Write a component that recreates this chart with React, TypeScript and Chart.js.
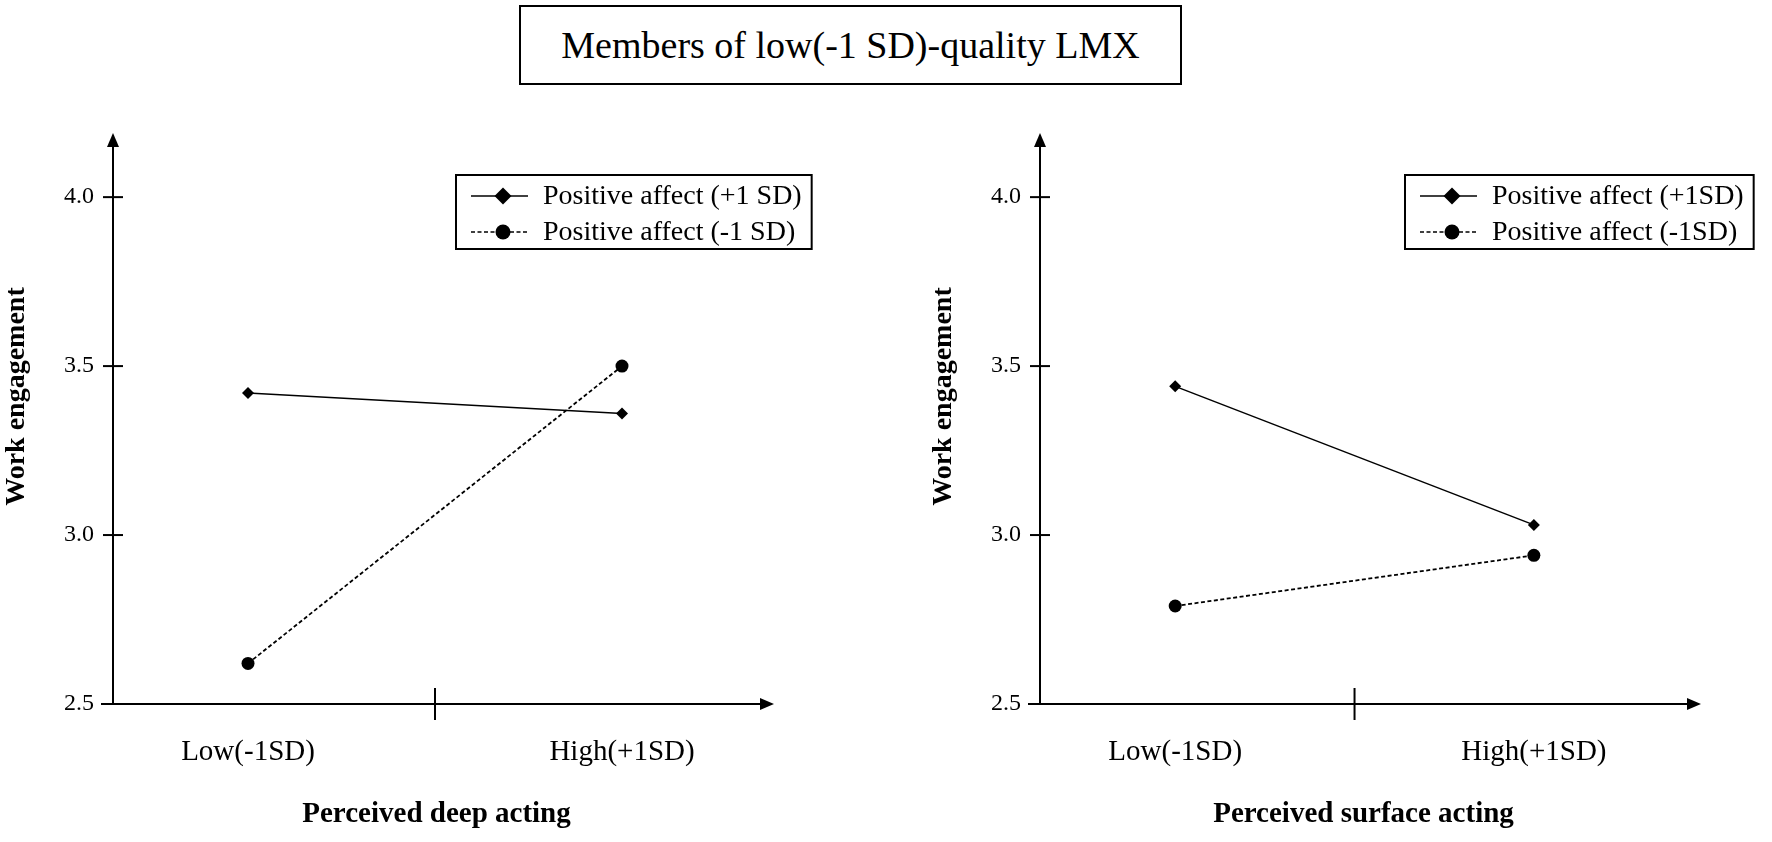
import { useEffect, useRef } from "react"
import { Chart, registerables, type ChartConfiguration, type Plugin } from "chart.js"

Chart.register(...registerables)

const serif = '"Liberation Serif", "Times New Roman", Times, serif'

const categories = ["Low(-1SD)", "High(+1SD)"]
const yTicks = [2.5, 3.0, 3.5, 4.0]

const deepLabels = ["Positive affect (+1 SD)", "Positive affect (-1 SD)"]
const deepHighPA = [3.42, 3.36]
const deepLowPA = [2.62, 3.5]

const surfaceLabels = ["Positive affect (+1SD)", "Positive affect (-1SD)"]
const surfaceHighPA = [3.44, 3.03]
const surfaceLowPA = [2.79, 2.94]

// axes drawn by hand: arrows, ticks crossing the axis, divider between categories
const arrowAxes: Plugin = {
  id: "arrowAxes",
  beforeDatasetsDraw(chart) {
    const { ctx, chartArea, scales } = chart
    const { left, right, top, bottom } = chartArea
    const line = (x1: number, y1: number, x2: number, y2: number) => {
      ctx.beginPath()
      ctx.moveTo(x1, y1)
      ctx.lineTo(x2, y2)
      ctx.stroke()
    }
    ctx.save()
    ctx.strokeStyle = "#000"
    ctx.fillStyle = "#000"
    ctx.lineWidth = 2

    const yTip = top + 44
    line(left, bottom + 1, left, yTip + 10)
    ctx.beginPath()
    ctx.moveTo(left, yTip)
    ctx.lineTo(left - 6, yTip + 14)
    ctx.lineTo(left + 6, yTip + 14)
    ctx.closePath()
    ctx.fill()

    const xTip = right + 14
    line(left - 12, bottom, xTip - 10, bottom)
    ctx.beginPath()
    ctx.moveTo(xTip, bottom)
    ctx.lineTo(xTip - 14, bottom - 6)
    ctx.lineTo(xTip - 14, bottom + 6)
    ctx.closePath()
    ctx.fill()

    const y = scales.y
    y.ticks.forEach((t) => {
      if (t.value === y.min) return
      const py = y.getPixelForValue(t.value)
      line(left - 10, py, left + 10, py)
    })

    const x = scales.x
    if (x.ticks.length > 1) {
      const mid = x.getPixelForValue((x.ticks[0].value + x.ticks[1].value) / 2)
      line(mid, bottom - 16, mid, bottom + 16)
    }
    ctx.restore()
  },
}

const boxLegend: Plugin = {
  id: "boxLegend",
  afterDraw(chart, _args, opts: any) {
    const { ctx } = chart
    const x0 = opts.x as number
    const y0 = opts.y as number
    ctx.save()
    ctx.font = `28px ${serif}`
    const sets = chart.data.datasets as any[]
    const textX = x0 + 87
    const widest = Math.max(...sets.map((d) => ctx.measureText(d.label).width))
    const w = widest + 87 + 10
    const h = 74
    ctx.strokeStyle = "#000"
    ctx.lineWidth = 2
    ctx.strokeRect(x0, y0, w, h)

    sets.forEach((d, i) => {
      const cy = y0 + 21 + i * 36
      ctx.lineWidth = 1.5
      ctx.setLineDash(d.borderDash || [])
      ctx.beginPath()
      ctx.moveTo(x0 + 15, cy)
      ctx.lineTo(x0 + 72, cy)
      ctx.stroke()
      ctx.setLineDash([])
      const mx = x0 + 47
      ctx.fillStyle = "#000"
      ctx.beginPath()
      if (d.pointStyle === "rectRot") {
        const r = 8.5
        ctx.moveTo(mx - r, cy)
        ctx.lineTo(mx, cy - r)
        ctx.lineTo(mx + r, cy)
        ctx.lineTo(mx, cy + r)
        ctx.closePath()
      } else {
        ctx.arc(mx, cy, 7.5, 0, Math.PI * 2)
      }
      ctx.fill()
      ctx.textBaseline = "middle"
      ctx.textAlign = "left"
      ctx.fillText(d.label, textX, cy + 1)
    })
    ctx.restore()
  },
}

interface PanelProps {
  labels: string[]
  high: number[]
  low: number[]
  xTitle: string
  width: number
  legendX: number
  xMin: number
  xMax: number
}

function Panel({ labels, high, low, xTitle, width, legendX, xMin, xMax }: PanelProps) {
  const canvasRef = useRef<HTMLCanvasElement | null>(null)

  useEffect(() => {
    if (!canvasRef.current) return
    const toPoints = (vals: number[]) => categories.map((_, i) => ({ x: i + 1, y: vals[i] }))

    const config: ChartConfiguration<"line"> = {
      type: "line",
      data: {
        datasets: [
          {
            label: labels[0],
            data: toPoints(high),
            borderColor: "#000",
            backgroundColor: "#000",
            borderWidth: 1.5,
            pointStyle: "rectRot",
            pointRadius: 6,
            pointBorderWidth: 0,
            pointBackgroundColor: "#000",
          },
          {
            label: labels[1],
            data: toPoints(low),
            borderColor: "#000",
            backgroundColor: "#000",
            borderWidth: 1.8,
            borderDash: [4, 2.5],
            pointStyle: "circle",
            pointRadius: 6.5,
            pointBorderWidth: 0,
            pointBackgroundColor: "#000",
          },
        ],
      },
      options: {
        animation: false,
        responsive: false,
        layout: { padding: { top: 89, right: width - 760, bottom: 0, left: 0 } },
        plugins: {
          legend: { display: false },
          tooltip: { enabled: false },
          boxLegend: { x: legendX, y: 175 },
        } as any,
        scales: {
          x: {
            type: "linear",
            min: xMin,
            max: xMax,
            grid: { display: false, drawTicks: false },
            border: { display: false },
            afterBuildTicks: (s) => {
              s.ticks = categories.map((_, i) => ({ value: i + 1 }))
            },
            afterFit: (s) => {
              s.height = 138
            },
            ticks: {
              padding: 31,
              maxRotation: 0,
              color: "#000",
              font: { family: serif, size: 29 },
              callback: (v) => categories[Number(v) - 1] ?? "",
            },
            title: {
              display: true,
              text: xTitle,
              color: "#000",
              font: { family: serif, size: 29, weight: "bold" },
              padding: { top: 0, bottom: 10 },
            },
          },
          y: {
            min: 2.5,
            max: 4.32,
            grid: { display: false, drawTicks: false },
            border: { display: false },
            afterBuildTicks: (s) => {
              s.ticks = yTicks.map((v) => ({ value: v }))
            },
            afterFit: (s) => {
              s.width = 113
            },
            ticks: {
              padding: 19,
              color: "#000",
              font: { family: serif, size: 24 },
              callback: (v) => Number(v).toFixed(1),
            },
            title: {
              display: true,
              text: "Work engagement",
              color: "#000",
              font: { family: serif, size: 28, weight: "bold" },
              padding: { top: 0, bottom: 0 },
            },
          },
        },
      },
      plugins: [arrowAxes, boxLegend],
    }

    const chart = new Chart(canvasRef.current, config)
    return () => chart.destroy()
  }, [labels, high, low, xTitle, width, legendX, xMin, xMax])

  return <canvas ref={canvasRef} width={width} height={842} style={{ width, height: 842, display: "block" }} />
}

export default function App() {
  return (
    <div
      style={{
        position: "absolute",
        left: 0,
        top: 0,
        width: 1772,
        height: 842,
        background: "#fff",
        overflow: "hidden",
      }}
    >
      <div style={{ position: "absolute", left: 0, top: 0 }}>
        <Panel
          labels={deepLabels}
          high={deepHighPA}
          low={deepLowPA}
          xTitle="Perceived deep acting"
          width={886}
          legendX={456}
          xMin={0.639}
          xMax={2.369}
        />
      </div>
      <div style={{ position: "absolute", left: 927, top: 0 }}>
        <Panel
          labels={surfaceLabels}
          high={surfaceHighPA}
          low={surfaceLowPA}
          xTitle="Perceived surface acting"
          width={845}
          legendX={478}
          xMin={0.623}
          xMax={2.427}
        />
      </div>
      <div
        style={{
          position: "absolute",
          left: 519,
          top: 5,
          width: 663,
          height: 80,
          boxSizing: "border-box",
          border: "2px solid #000",
          background: "#fff",
          display: "flex",
          alignItems: "center",
          justifyContent: "center",
          fontFamily: serif,
          fontSize: 38,
          color: "#000",
        }}
      >
        Members of low(-1 SD)-quality LMX
      </div>
    </div>
  )
}
